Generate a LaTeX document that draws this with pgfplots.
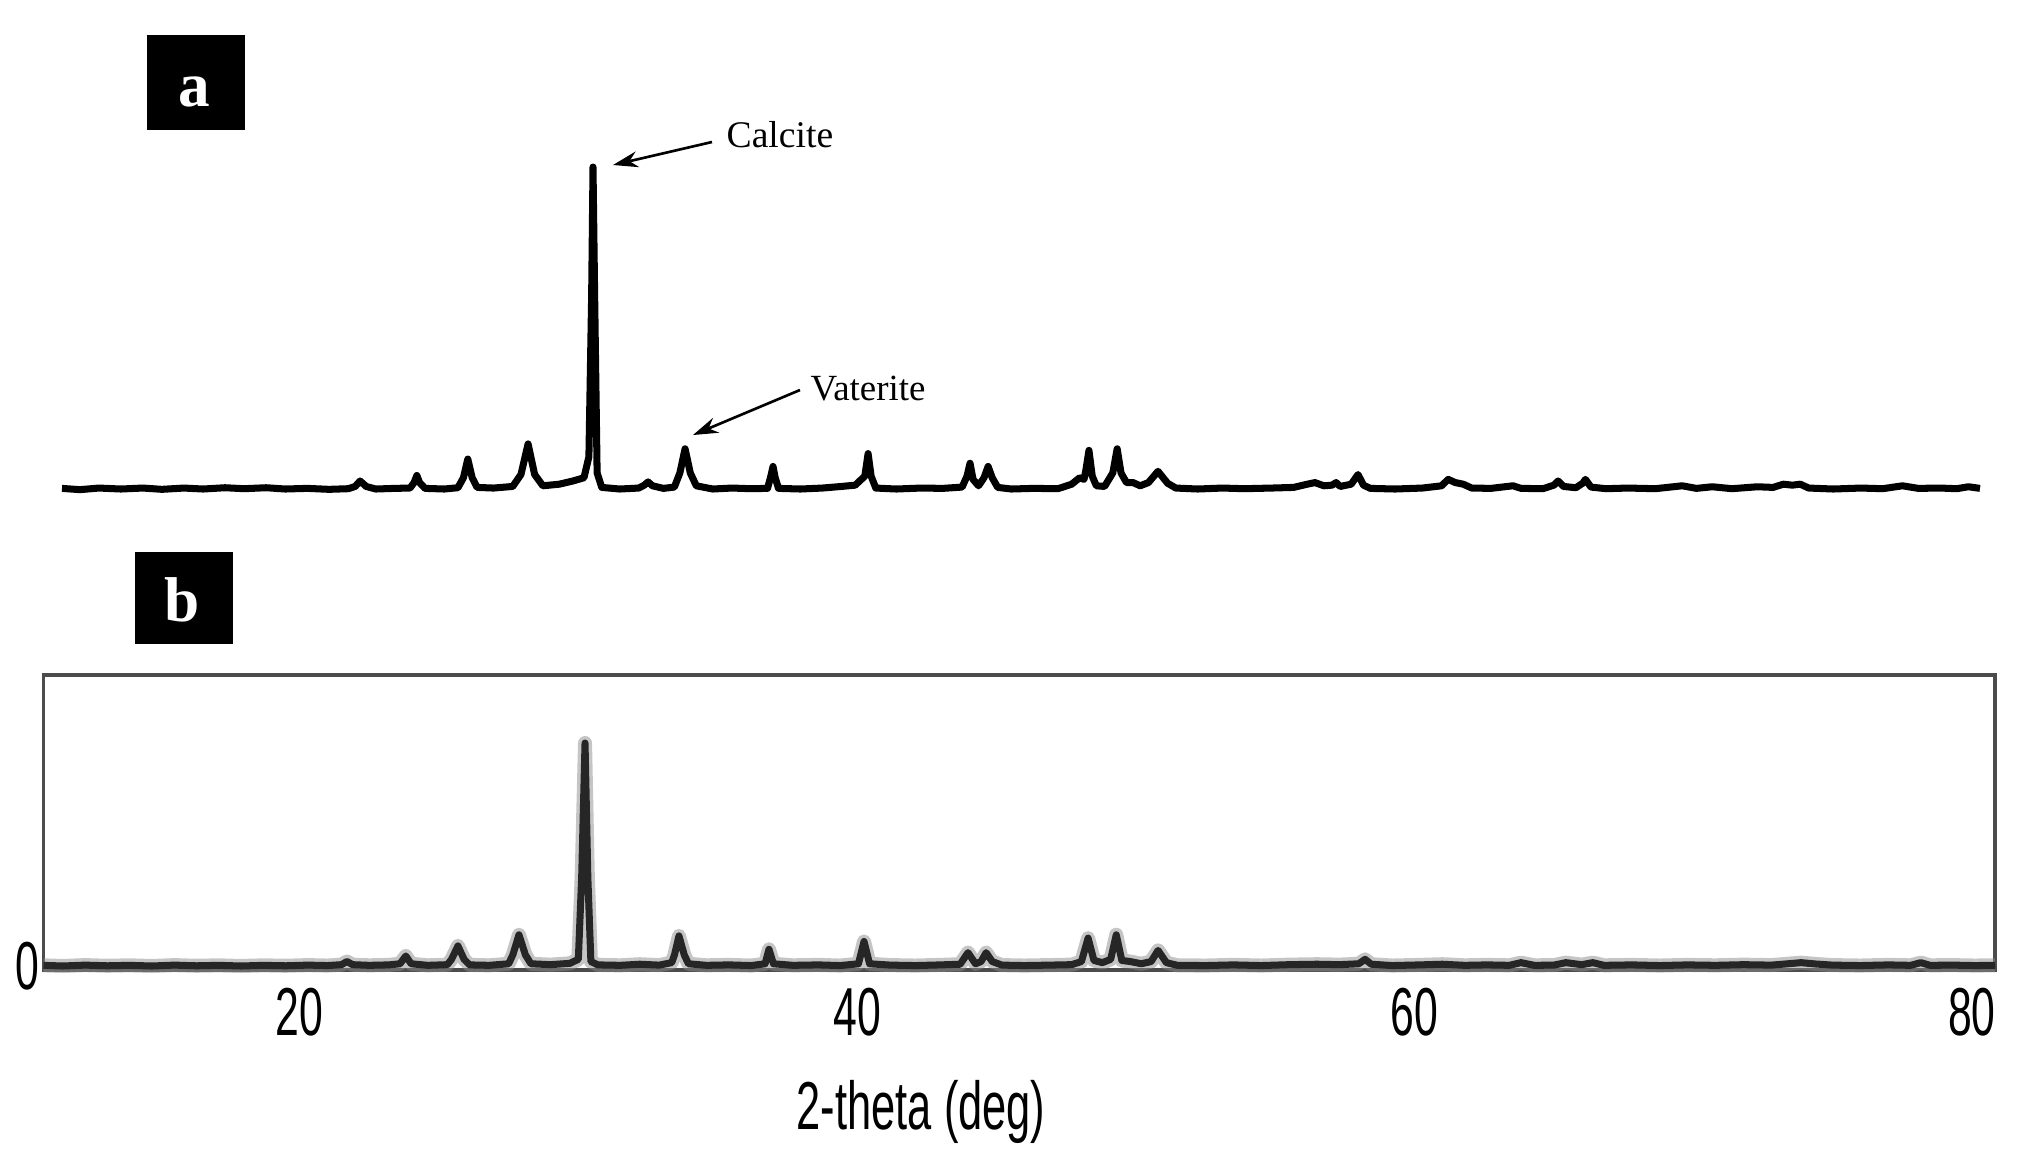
\documentclass[border=0pt]{standalone}
\usepackage{fontspec}
\setmainfont{Liberation Serif}
\newfontfamily\arialf{Liberation Sans}
\usepackage{pgfplots}
\pgfplotsset{compat=1.18}
\usetikzlibrary{arrows.meta}

\begin{document}
\begin{tikzpicture}
\path[use as bounding box] (0,0) rectangle (20.4,-11.65);

% ---------------- panel b (with axes) ----------------
\begin{axis}[
  at={(0.435cm,-9.70cm)}, anchor=south west,
  scale only axis, width=19.515cm, height=2.95cm,
  xmin=10.81, xmax=80.83, ymin=-1.8, ymax=130.5,
  xtick={20,40,60,80}, ytick={0},
  major tick length=0pt,
  axis line style={black!70, line width=1pt},
  tick label style={font=\arialf\fontsize{19.3}{23}\selectfont, inner sep=0pt, xscale=0.63},
  xticklabel style={yshift=-0.17cm},
  yticklabel style={xshift=-0.065cm},
  /pgf/number format/assume math mode=true,
  xlabel={2-theta (deg)},
  xlabel style={at={(rel axis cs:0.4497,0)}, anchor=north, yshift=-1.10cm, inner sep=0pt,
    font=\arialf\fontsize{19.3}{23}\selectfont, xscale=0.64},
  clip=false,
]
\addplot[black!45, line width=4pt, opacity=0.5, line join=round] table {
10.81 0.3
11.5 0.0
12.3 0.4
13.1 0.1
13.9 0.3
14.7 0.0
15.5 0.4
16.3 0.1
17.1 0.3
17.9 0.0
18.7 0.3
19.5 0.1
20.3 0.4
21.0 0.2
21.5 0.6
21.7 2.0
21.9 0.6
22.5 0.3
23.2 0.5
23.6 1.0
23.81 4.5
24.0 1.0
24.6 0.3
25.3 0.6
25.45 3.0
25.68 9.0
25.9 3.0
26.1 0.5
26.8 0.3
27.5 1.0
27.65 5.0
27.87 14.0
28.1 5.0
28.3 1.0
29.0 0.6
29.7 1.2
30.0 3.0
30.12 40
30.24 100
30.34 40
30.45 2.0
30.7 0.5
31.5 0.3
32.2 0.8
32.9 0.4
33.35 1.5
33.45 5.0
33.61 13.5
33.8 5.0
33.95 1.0
34.6 0.3
35.4 0.5
36.2 0.2
36.7 1.0
36.84 7.5
37.0 1.0
37.7 0.3
38.6 0.5
39.4 0.2
40.05 1.0
40.25 11.0
40.45 1.0
41.2 0.4
42.1 0.2
43.0 0.5
43.7 0.8
43.98 6.0
44.25 1.0
44.45 2.0
44.63 6.0
44.85 2.0
45.2 0.4
46.0 0.2
46.9 0.4
47.7 0.6
48.05 2.0
48.29 12.5
48.5 2.5
48.8 1.5
49.1 3.0
49.30 14.0
49.5 2.5
49.8 2.0
50.2 1.0
50.55 2.0
50.80 7.0
51.1 1.5
51.5 0.3
52.5 0.2
53.5 0.5
54.5 0.2
55.5 0.6
56.5 0.8
57.3 0.6
58.0 1.0
58.23 3.0
58.45 0.8
59.2 0.2
60.2 0.5
61.0 0.8
61.8 0.3
62.6 0.5
63.4 0.3
63.82 1.5
64.3 0.3
65.0 0.4
65.43 1.5
66.0 0.6
66.40 1.5
66.8 0.3
67.8 0.5
68.8 0.2
69.8 0.5
70.8 0.3
71.8 0.6
72.8 0.4
73.3 0.9
73.87 1.5
74.4 0.9
75.0 0.4
76.0 0.2
77.0 0.5
77.8 0.3
78.17 1.5
78.5 0.3
79.3 0.4
80.1 0.2
80.83 0.3
};
\addplot[black!85, line width=2.0pt, line join=round] table {
10.81 0.3
11.5 0.0
12.3 0.4
13.1 0.1
13.9 0.3
14.7 0.0
15.5 0.4
16.3 0.1
17.1 0.3
17.9 0.0
18.7 0.3
19.5 0.1
20.3 0.4
21.0 0.2
21.5 0.6
21.7 2.0
21.9 0.6
22.5 0.3
23.2 0.5
23.6 1.0
23.81 4.5
24.0 1.0
24.6 0.3
25.3 0.6
25.45 3.0
25.68 9.0
25.9 3.0
26.1 0.5
26.8 0.3
27.5 1.0
27.65 5.0
27.87 14.0
28.1 5.0
28.3 1.0
29.0 0.6
29.7 1.2
30.0 3.0
30.12 40
30.24 100
30.34 40
30.45 2.0
30.7 0.5
31.5 0.3
32.2 0.8
32.9 0.4
33.35 1.5
33.45 5.0
33.61 13.5
33.8 5.0
33.95 1.0
34.6 0.3
35.4 0.5
36.2 0.2
36.7 1.0
36.84 7.5
37.0 1.0
37.7 0.3
38.6 0.5
39.4 0.2
40.05 1.0
40.25 11.0
40.45 1.0
41.2 0.4
42.1 0.2
43.0 0.5
43.7 0.8
43.98 6.0
44.25 1.0
44.45 2.0
44.63 6.0
44.85 2.0
45.2 0.4
46.0 0.2
46.9 0.4
47.7 0.6
48.05 2.0
48.29 12.5
48.5 2.5
48.8 1.5
49.1 3.0
49.30 14.0
49.5 2.5
49.8 2.0
50.2 1.0
50.55 2.0
50.80 7.0
51.1 1.5
51.5 0.3
52.5 0.2
53.5 0.5
54.5 0.2
55.5 0.6
56.5 0.8
57.3 0.6
58.0 1.0
58.23 3.0
58.45 0.8
59.2 0.2
60.2 0.5
61.0 0.8
61.8 0.3
62.6 0.5
63.4 0.3
63.82 1.5
64.3 0.3
65.0 0.4
65.43 1.5
66.0 0.6
66.40 1.5
66.8 0.3
67.8 0.5
68.8 0.2
69.8 0.5
70.8 0.3
71.8 0.6
72.8 0.4
73.3 0.9
73.87 1.5
74.4 0.9
75.0 0.4
76.0 0.2
77.0 0.5
77.8 0.3
78.17 1.5
78.5 0.3
79.3 0.4
80.1 0.2
80.83 0.3
};
\end{axis}

% ---------------- panel a (no axes) ----------------
\begin{axis}[
  at={(0.62cm,-4.89cm)}, anchor=south west,
  scale only axis, width=19.18cm, height=3.22cm,
  xmin=10.85, xmax=80.85, ymin=0, ymax=100,
  hide axis, clip=false,
]
\addplot[black, line width=2.0pt, line join=round] table {
10.85 0.2
11.5 -0.2
12.2 0.3
13.0 0.0
13.8 0.3
14.5 -0.1
15.3 0.3
16.0 0.0
16.8 0.4
17.5 0.1
18.3 0.4
19.0 0.0
19.8 0.2
20.6 -0.1
21.3 0.1
21.55 0.8
21.73 2.5
21.95 0.8
22.3 0.0
23.0 0.2
23.55 0.3
23.7 2.0
23.8 4.2
23.9 2.0
24.1 0.2
24.8 0.0
25.3 0.4
25.5 3.5
25.66 9.3
25.82 3.5
26.0 0.5
26.6 0.3
27.3 0.8
27.6 4.5
27.86 14.0
28.1 4.5
28.4 1.0
29.0 1.5
29.5 2.5
29.9 3.5
30.08 10
30.18 60
30.23 100
30.29 60
30.38 5
30.55 0.5
31.2 0.0
31.9 0.3
32.1 1.2
32.24 2.2
32.4 1.0
32.8 0.2
33.2 0.6
33.4 5.0
33.59 12.5
33.78 5.0
34.0 1.0
34.6 0.0
35.3 0.3
36.0 0.1
36.6 0.2
36.72 4.0
36.80 7.0
36.88 3.5
37.0 0.2
37.8 0.0
38.6 0.3
39.3 0.8
39.8 1.2
40.15 4.0
40.27 11.0
40.38 4.0
40.55 0.3
41.3 0.0
42.2 0.3
43.0 0.2
43.7 0.6
43.88 4.0
43.99 8.0
44.1 3.0
44.3 1.0
44.5 3.5
44.65 7.0
44.8 3.5
45.0 0.5
45.5 0.0
46.3 0.2
47.2 0.1
47.7 1.5
47.99 3.5
48.15 3.0
48.22 6.0
48.33 12.0
48.45 4.0
48.6 1.0
48.9 0.8
49.2 5.0
49.36 12.5
49.5 5.0
49.7 2.0
49.94 2.0
50.2 1.0
50.5 2.0
50.85 5.5
51.2 1.8
51.5 0.3
52.3 0.0
53.2 0.3
54.0 0.1
55.0 0.3
55.8 0.5
56.3 1.5
56.58 2.0
56.9 1.0
57.2 1.2
57.35 2.0
57.5 0.8
57.9 1.5
58.15 4.5
58.35 1.2
58.6 0.2
59.5 0.0
60.5 0.3
61.2 1.0
61.44 3.0
61.7 2.0
61.99 1.5
62.3 0.3
63.0 0.2
63.6 0.8
63.81 1.0
64.1 0.2
64.9 0.1
65.3 1.2
65.45 2.5
65.65 0.8
66.1 0.4
66.35 1.8
66.45 3.0
66.65 0.6
67.2 0.1
68.0 0.3
69.0 0.1
69.98 1.0
70.5 0.2
71.08 0.7
71.8 0.1
72.72 0.7
73.3 0.5
73.67 1.5
74.0 1.2
74.29 1.5
74.6 0.3
75.5 0.0
76.5 0.3
77.3 0.1
78.02 1.0
78.6 0.2
79.4 0.3
80.0 0.1
80.43 0.7
80.85 0.2
};
\end{axis}

% panel tags
\fill[black] (1.47,-0.35) rectangle (2.45,-1.30);
\node[text=white, inner sep=0pt, font=\bfseries\fontsize{18}{20}\selectfont] at (1.94,-0.92) {a};
\fill[black] (1.35,-5.52) rectangle (2.33,-6.44);
\node[text=white, inner sep=0pt, font=\bfseries\fontsize{18}{20}\selectfont] at (1.82,-6.00) {b};

% annotations
\node[anchor=base west, inner sep=0pt, font=\fontsize{10.7}{12}\selectfont] at (7.26,-1.47) {Calcite};
\draw[line width=0.75pt, -{Stealth[length=0.25cm, width=0.16cm]}] (7.12,-1.42) -- (6.13,-1.65);
\node[anchor=base west, inner sep=0pt, font=\fontsize{10.5}{12}\selectfont] at (8.10,-4.00) {Vaterite};
\draw[line width=0.75pt, -{Stealth[length=0.25cm, width=0.16cm]}] (8.00,-3.90) -- (6.93,-4.35);
\end{tikzpicture}
\end{document}
